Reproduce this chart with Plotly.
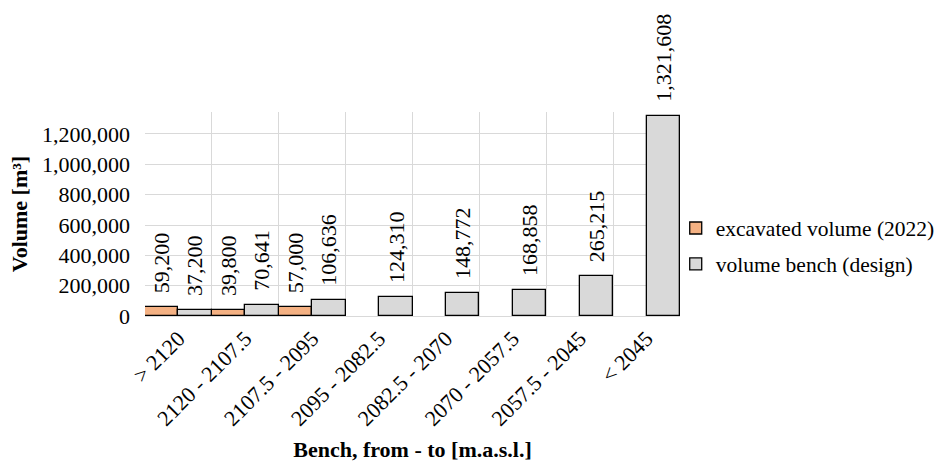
import plotly.graph_objects as go

categories = ["> 2120", "2120 - 2107.5", "2107.5 - 2095", "2095 - 2082.5",
              "2082.5 - 2070", "2070 - 2057.5", "2057.5 - 2045", "< 2045"]
excavated = [59200, 39800, 57000, None, None, None, None, None]
design = [37200, 70641, 106636, 124310, 148772, 168858, 265215, 1321608]
y_ticks = [0, 200000, 400000, 600000, 800000, 1000000, 1200000]

FONT = "Liberation Serif, Times New Roman, serif"
FS = 22
ORANGE = "#F4B183"
GREY = "#D9D9D9"

fig = go.Figure()
fig.add_trace(go.Bar(x=categories, y=excavated, name="excavated volume (2022)",
                     legendgroup="a",
                     marker=dict(color=ORANGE, line=dict(color="black", width=1.3))))
fig.add_trace(go.Bar(x=categories, y=design, name="volume bench (design)",
                     legendgroup="b",
                     marker=dict(color=GREY, line=dict(color="black", width=1.3))))

annotations = []
for i, v in enumerate(excavated):
    if v is not None:
        annotations.append(dict(x=i - 0.25, y=v, xref="x", yref="y", text=f"{v:,}",
                                textangle=-90, showarrow=False, yanchor="bottom",
                                xanchor="center", yshift=12,
                                font=dict(family=FONT, size=FS, color="black")))
for i, v in enumerate(design):
    annotations.append(dict(x=i + 0.25, y=v, xref="x", yref="y", text=f"{v:,}",
                            textangle=-90, showarrow=False, yanchor="bottom",
                            xanchor="center", yshift=12,
                            font=dict(family=FONT, size=FS, color="black")))

fig.update_layout(
    width=938, height=462,
    margin=dict(l=145, r=258, t=112, b=146, autoexpand=False),
    paper_bgcolor="white", plot_bgcolor="white",
    barmode="group", bargap=0, bargroupgap=0,
    font=dict(family=FONT, size=FS, color="black"),
    annotations=annotations,
    legend=dict(x=0.992, y=0.343, xanchor="left", yanchor="middle",
                font=dict(family=FONT, size=21.5, color="black"),
                traceorder="grouped", tracegroupgap=5,
                itemwidth=30, bgcolor="rgba(0,0,0,0)"),
    xaxis=dict(
        type="category", tickson="boundaries", showgrid=True, gridcolor=GREY,
        gridwidth=1.3, tickangle=-45, ticks="", showline=True, linecolor=GREY,
        linewidth=1.3, automargin=False,
        tickfont=dict(family=FONT, size=FS, color="black"),
        title=dict(text="<b>Bench, from - to [m.a.s.l.]</b>",
                   font=dict(family=FONT, size=FS, color="black"), standoff=12),
    ),
    yaxis=dict(
        range=[0, 1345000], tickvals=y_ticks, tickformat=",d", showgrid=True,
        gridcolor=GREY, gridwidth=1.3, zeroline=False, ticks="", automargin=False,
        ticklabelstandoff=14,
        tickfont=dict(family=FONT, size=FS, color="black"),
        title=dict(text="<b>Volume [m³]</b>",
                   font=dict(family=FONT, size=FS, color="black"), standoff=8),
    ),
)

fig.write_html("out.html", config={"displayModeBar": False},
               post_script="document.body.style.margin='0';")
